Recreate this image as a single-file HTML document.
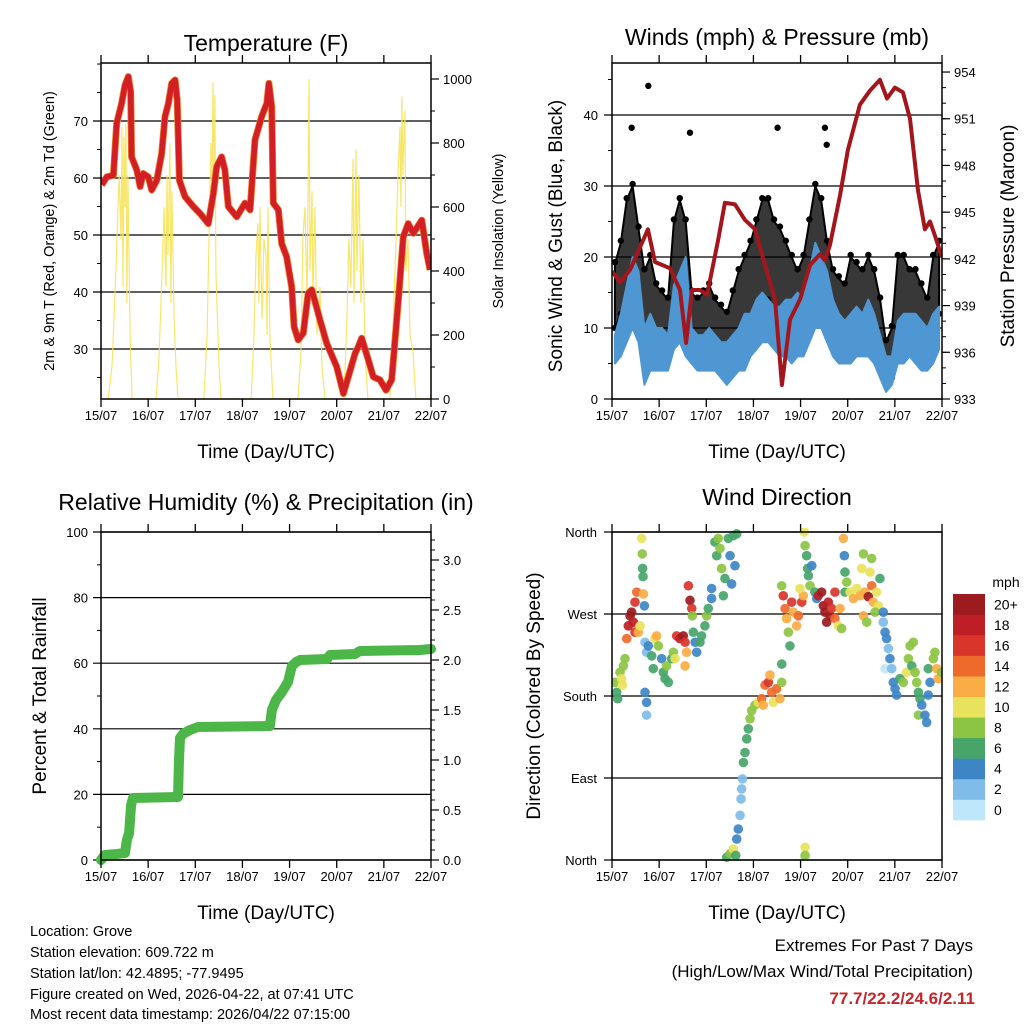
<!DOCTYPE html>
<html><head><meta charset="utf-8">
<style>
html,body{margin:0;padding:0;background:#fff;}
svg{display:block;font-family:"Liberation Sans",Arial,sans-serif;}
</style></head>
<body>
<svg id="chart" xmlns="http://www.w3.org/2000/svg" width="1024" height="1024" viewBox="0 0 1024 1024">
<rect x="0" y="0" width="1024" height="1024" fill="#fff"/>
<g font-size="14.5" fill="#000">
<text x="30" y="936">Location: Grove</text>
<text x="30" y="957">Station elevation: 609.722 m</text>
<text x="30" y="978">Station lat/lon: 42.4895; -77.9495</text>
<text x="30" y="999">Figure created on Wed, 2026-04-22, at 07:41 UTC</text>
<text x="30" y="1019">Most recent data timestamp: 2026/04/22 07:15:00</text>
</g>
<g font-size="17" text-anchor="end">
<text x="973" y="951">Extremes For Past 7 Days</text>
<text x="973" y="977">(High/Low/Max Wind/Total Precipitation)</text>
<text x="975" y="1004" fill="#c4262b" font-weight="bold">77.7/22.2/24.6/2.11</text>
</g>
</svg>
<script>
// ---------- DATA ----------
const dayLabels = ["15/07","16/07","17/07","18/07","19/07","20/07","21/07","22/07"];
// Temperature (hours since start, deg F)
const tempHours = [0.4,2.9,6.3,8.0,10.5,12.2,13.9,15.1,15.6,18.2,19.9,21.5,24.1,25.8,28.4,30.9,32.6,34.3,36.0,37.7,38.8,39.9,42.8,47.0,50.4,54.6,57.2,58.9,61.4,63.1,64.8,69.1,73.3,75.9,78.4,81.8,84.4,85.5,86.9,87.7,90.3,92.0,94.5,97.1,98.3,100.4,103.0,105.5,107.3,111.5,114.9,120.0,123.4,125.9,129.3,131.0,132.7,136.1,138.6,142.0,145.1,148.0,151.4,153.9,156.4,159.0,163.3,165.8,167.5];
const tempValues = [58.8,60.2,60.5,69.6,73.1,76.3,77.8,75.1,63.7,61.4,58.5,60.8,60.2,57.9,59.6,64.3,70.8,73.1,76.6,77.2,73.7,59.6,56.7,55.0,53.8,52.0,57.3,62.0,63.7,61.4,55.0,53.2,55.6,54.4,66.7,70.8,73.1,76.6,72.5,55.6,54.4,48.5,46.2,40.9,33.9,31.6,32.8,39.8,40.4,35.1,31.0,26.9,22.2,25.1,29.2,30.4,31.9,28.1,25.1,24.6,22.8,24.6,38.6,49.7,52.0,50.3,52.6,46.8,43.9];
// Solar insolation (hours, W/m2)
const solarHours = [0,3.6,5.6,7.6,9.2,10.2,10.7,11.2,11.7,12.2,12.7,13.2,13.7,14.8,15.8,28.0,29.5,31.1,32.1,33.1,33.6,34.1,35.1,35.6,36.1,37.2,38.2,39.2,52.4,54.0,55.0,56.0,56.5,57.0,57.5,58.0,58.5,59.0,60.1,61.1,76.4,77.9,78.9,79.9,80.4,80.9,82.0,83.0,84.0,84.5,85.0,86.0,87.5,100.3,101.8,102.8,103.8,104.9,105.9,106.4,107.4,107.9,108.9,109.9,111.5,112.5,114.0,123.7,125.2,126.2,127.2,128.3,128.8,129.8,130.3,131.3,132.3,133.4,134.4,135.9,147.1,148.6,150.2,151.2,152.2,152.7,153.2,153.7,154.7,155.2,156.3,157.3,158.8,160.3,168];
const solarValues = [0,0,100,400,700,500,850,350,820,600,860,300,700,200,0,0,120,400,600,350,700,450,800,300,650,250,100,0,0,200,500,800,650,990,700,950,400,300,100,0,0,200,450,550,300,600,250,500,450,200,600,200,0,0,150,500,600,300,1000,400,650,300,600,200,350,100,0,0,250,500,350,750,300,780,400,700,300,500,150,0,0,200,500,700,850,600,945,700,900,400,500,200,150,0,0];
// Winds in 3-hour bins (mph)
const gustHi = [19,22,28,30,24,18,20,16,15,14,25,28,25,15,14,15,16,14,13,12,15,18,20,22,25,28,28,25,24,22,20,18,20,25,30,28,22,18,17,16,20,19,18,20,18,14,8,10,20,20,18,18,16,14,20,22];
const gustLo = [10,12,14,16,12,6,8,8,8,7,12,14,10,8,7,7,8,8,6,6,8,8,9,10,12,14,14,12,12,10,8,9,10,14,16,15,13,10,10,9,10,10,10,10,8,6,3,3,10,10,10,8,8,8,10,12];
const windHi = [9,12,16,20,18,10,12,10,10,9,16,18,20,10,9,9,10,9,8,8,9,10,12,12,14,15,14,13,13,14,14,15,14,18,22,20,18,14,12,11,12,13,12,14,12,9,6,6,11,12,12,12,11,10,12,13];
const windLo = [5,6,8,10,8,2,4,4,4,4,7,8,6,5,4,4,4,4,3,2,3,4,4,6,7,8,8,7,6,6,5,6,6,8,10,10,8,6,5,5,5,6,6,6,5,3,1,2,5,5,6,5,4,4,5,7];
const gustPeakHours = [10.0,18.5,39.7,84.3,108.4,109.3];
const gustPeakValues = [38.2,44.1,37.5,38.2,38.2,35.8];
// Pressure (hours, mb)
const presHours = [0,4.1,9.2,18.3,21.9,29.5,34.6,37.7,40.7,44.8,48.4,54.0,57.5,62.6,67.7,72.8,77.9,83.0,86.5,90.6,95.7,100.8,105.9,108.4,111.0,116.1,120.1,126.2,131.3,136.4,140.0,144.0,148.1,151.7,155.8,159.3,161.9,164.4,168];
const presValues = [941.2,940.5,941.3,943.9,941.8,941.4,940.0,936.6,940.0,940.0,939.7,943.2,945.6,945.5,944.5,943.9,941.6,939.4,933.9,938.1,939.4,941.6,942.3,941.9,942.9,946.1,949.0,951.9,952.8,953.5,952.3,953.0,952.7,951.0,946.4,943.9,944.4,943.5,942.1];
// Precipitation (hours, inches)
const precipHours = [0,2.0,8.1,12.2,13.2,14.3,15.3,16.3,39.2,39.7,40.2,41.7,45.3,49.4,86.0,87.0,89.1,92.1,95.2,97.2,99.3,101.3,115.0,116.6,129.3,131.8,162.4,168];
const precipValues = [0,0.05,0.06,0.07,0.2,0.27,0.55,0.62,0.63,1.0,1.22,1.26,1.30,1.33,1.34,1.5,1.6,1.68,1.78,1.94,1.98,2.0,2.01,2.05,2.06,2.09,2.10,2.11];
// Wind direction observations (hours, degrees, mph)
const dirHours = [1.5,2.4,2.9,4.1,4.9,5.8,5.3,6.6,7.5,8.3,9.2,10.0,10.9,11.7,12.6,11.7,13.4,14.3,15.1,15.4,15.6,15.8,16.0,16.5,16.8,17.6,16.8,17.6,17.6,18.5,20.2,21.0,21.9,22.7,23.6,25.3,26.1,27.0,28.7,27.8,30.4,31.2,32.1,32.9,34.6,36.3,37.2,38.0,37.2,38.9,39.7,40.6,40.9,41.4,42.3,43.1,44.8,45.6,47.3,48.2,49.0,50.7,50.7,52.4,53.3,54.1,55.0,55.8,57.5,56.7,59.2,60.1,61.8,63.5,60.9,62.6,58.4,60.1,61.8,63.0,63.5,64.3,65.2,65.7,66.0,66.4,66.9,67.7,68.6,69.4,70.3,71.1,72.8,74.5,76.2,77.0,77.9,79.6,80.4,81.3,82.1,83.8,85.5,86.4,86.4,86.4,87.2,88.1,88.9,89.8,90.6,91.5,92.3,94.0,94.9,96.6,97.4,95.7,97.9,98.3,99.1,99.6,100.0,100.8,101.7,103.3,104.2,105.0,106.7,107.6,108.4,109.3,110.1,111.0,111.8,113.5,115.2,116.9,116.1,113.5,117.8,118.3,118.6,118.6,119.5,121.2,122.9,124.6,126.3,127.1,128.0,128.8,130.5,132.2,131.3,133.0,134.7,135.6,132.2,136.4,133.9,128.0,129.7,138.1,138.1,139.0,139.8,140.7,141.5,139.0,142.4,143.2,144.1,144.9,146.6,148.3,150.0,150.9,151.7,153.4,152.6,154.3,155.1,156.0,156.8,156.0,157.7,159.3,160.2,161.0,161.9,161.0,163.6,164.4,165.3,166.1,167.8,98.3,98.3];
const dirDegrees = [195,184,177,206,199,213,192,221,243,257,268,272,261,283,294,250,250,257,353,336,320,311,292,279,239,228,184,173,159,235,224,210,243,246,235,221,206,199,195,213,221,228,221,246,243,246,239,228,213,301,285,276,268,250,239,228,239,246,257,268,276,287,298,349,334,353,342,320,309,290,353,334,356,358,303,323,3,7,12,5,23,34,49,67,78,89,107,118,133,144,155,164,170,173,177,170,192,195,203,184,173,188,177,195,215,301,290,276,265,250,235,283,272,257,268,283,290,298,360,345,334,320,312,301,323,294,287,290,294,279,272,261,283,268,276,265,257,254,276,294,353,334,316,294,305,294,287,298,290,320,336,294,289,301,316,283,294,279,331,309,272,268,261,272,261,250,243,232,221,210,210,195,188,181,199,195,206,221,235,239,213,206,195,184,177,159,170,159,151,181,195,210,221,228,210,199,206,14,5];
const dirSpeeds = [8,6,6,8,10,8,10,8,14,18,20,20,18,16,14,16,12,10,10,8,7,7,12,4,2,2,4,4,3,5,6,6,10,12,8,4,6,6,6,8,6,8,10,16,18,20,16,12,12,16,20,16,8,7,4,4,6,7,6,8,6,4,4,7,7,8,9,8,6,7,7,4,6,7,4,4,6,8,10,6,4,4,2,2,2,2,6,6,6,6,8,8,8,10,14,12,14,16,12,14,10,14,12,8,7,8,16,14,12,8,7,16,12,12,14,16,12,10,10,8,7,6,7,8,4,6,4,18,20,20,20,20,18,20,16,14,10,8,12,16,12,4,6,6,8,10,12,10,12,10,8,12,20,14,10,12,10,10,8,6,8,12,8,4,2,4,4,2,4,0,2,4,4,4,6,8,10,8,8,8,6,8,8,6,6,8,4,4,4,4,4,6,8,8,12,12,8,10,8];
const speedLabels = ["0","2","4","6","8","10","12","14","16","18","20+"];
const speedColors = ["#bfe7fb","#7fbce9","#3d86c5","#47a56a","#8cc443","#e8e25c","#f9ad44","#ee6a2c","#d9352a","#bd1f24","#9b1b1e"];
const tempTicks = [30,40,50,60,70];
const solarTicks = [0,200,400,600,800,1000];
const windTicks = [0,10,20,30,40];
const presTicks = [933,936,939,942,945,948,951,954];
const rhTicks = [0,20,40,60,80,100];
const rainTicks = [0,0.5,1.0,1.5,2.0,2.5,3.0];
const dirTicks = [0,90,180,270,360];
const dirTickLabels = ["North","East","South","West","North"];

// ---------- HELPERS ----------
const NS = "http://www.w3.org/2000/svg";
const svg = document.getElementById("chart");
function mk(tag, attrs, parent, name) {
  const el = document.createElementNS(NS, tag);
  for (const k in attrs) el.setAttribute(k, attrs[k]);
  
  
  (parent || svg).appendChild(el);
  return el;
}
function txt(s, x, y, size, anchor, parent, name, extra) {
  const t = mk("text", Object.assign({x: x, y: y, "font-size": size, "text-anchor": anchor || "start", fill: "#000"}, extra || {}), parent, name);
  t.textContent = s;
  return t;
}
function scale(d0, d1, r0, r1) { return v => r0 + (v - d0) / (d1 - d0) * (r1 - r0); }
function poly(xs, ys, sx, sy) { return xs.map((h, i) => sx(h).toFixed(1) + "," + sy(ys[i]).toFixed(1)).join(" "); }
function speedColor(s) { return speedColors[Math.min(10, Math.max(0, Math.floor(s / 2)))]; }

function frame(g, L, T, R, B, sx, name) {
  dayLabels.forEach((lab, i) => {
    const x = sx(i * 24);
    mk("line", {x1: x, y1: B, x2: x, y2: B + 8, stroke: "#000", "stroke-width": 1.3}, g, name + "-x-tick");
    mk("line", {x1: x, y1: T, x2: x, y2: T - 8, stroke: "#000", "stroke-width": 1.3}, g, name + "-x-tick-top");
    txt(lab, x, B + 21, 13, "middle", g, name + "-x-tick-label");
  });
  txt("Time (Day/UTC)", (L + R) / 2, B + 59, 19, "middle", g, name + "-x-axis-title");
}
function leftAxis(g, ticks, labels, sy, L, R, minor, name, labelX) {
  ticks.forEach((v, i) => {
    const y = sy(v);
    mk("line", {x1: L - 8, y1: y, x2: R, y2: y, stroke: "#000", "stroke-width": 1.2}, g, name + "-gridline");
    txt(labels ? labels[i] : String(v), labelX, y + 5, 13, "end", g, name + "-tick-label");
  });
  (minor || []).forEach(v => {
    const y = sy(v);
    mk("line", {x1: L - 4, y1: y, x2: L, y2: y, stroke: "#000", "stroke-width": 1}, g, name + "-minor-tick");
  });
}
function rightAxis(g, ticks, labels, sy, R, minor, name) {
  ticks.forEach((v, i) => {
    const y = sy(v);
    mk("line", {x1: R, y1: y, x2: R + 8, y2: y, stroke: "#000", "stroke-width": 1.2}, g, name + "-tick");
    txt(labels[i], R + 12, y + 5, 13, "start", g, name + "-tick-label");
  });
  (minor || []).forEach(v => {
    const y = sy(v);
    mk("line", {x1: R, y1: y, x2: R + 4, y2: y, stroke: "#000", "stroke-width": 1}, g, name + "-minor-tick");
  });
}
function border(g, L, T, R, B, name) {
  mk("rect", {x: L, y: T, width: R - L, height: B - T, fill: "none", stroke: "#000", "stroke-width": 1.5}, g, name + "-frame");
}
function rng(a, b, s) { const o = []; for (let v = a; v <= b + 1e-9; v += s) o.push(+v.toFixed(3)); return o; }

// ---------- PANEL 1: TEMPERATURE ----------
(function () {
  const L = 101, T = 63, R = 431, B = 399;
  const g = mk("g", {}, svg, "temperature-panel");
  const sx = scale(0, 168, L, R);
  const sy = scale(21.23, 80.18, B, T);
  const sy2 = scale(0, 1050, B, T);
  txt("Temperature (F)", 266, 51, 23, "middle", g, "temperature-title");
  leftAxis(g, tempTicks, null, sy, L, R, rng(25, 80, 5), "temp-axis", 88);
  rightAxis(g, solarTicks, solarTicks.map(String), sy2, R, rng(100, 1000, 100), "solar-axis");
  const clip = mk("clipPath", {id: "c1"}, g, "temperature-clip");
  mk("rect", {x: L, y: T, width: R - L, height: B - T}, clip, "temperature-clip-rect");
  const dg = mk("g", {"clip-path": "url(#c1)"}, g, "temperature-series");
  mk("polyline", {points: poly(solarHours, solarValues, sx, sy2), fill: "none", stroke: "#f7e35a", "stroke-width": 1.2, opacity: 0.9}, dg, "solar-insolation-line");
  mk("polyline", {points: poly(tempHours, tempValues, sx, sy), fill: "none", stroke: "#f07a2a", "stroke-width": 7, "stroke-linejoin": "round"}, dg, "temp-9m-line");
  mk("polyline", {points: poly(tempHours, tempValues, sx, sy), fill: "none", stroke: "#d21f26", "stroke-width": 5.5, "stroke-linejoin": "round"}, dg, "temp-2m-line");
  border(g, L, T, R, B, "temperature");
  frame(g, L, T, R, B, sx, "temperature");
  txt("2m & 9m T (Red, Orange) & 2m Td (Green)", 0, 0, 14.5, "middle", g, "temp-y-axis-title", {transform: "translate(54,231) rotate(-90)"});
  txt("Solar Insolation (Yellow)", 0, 0, 14.5, "middle", g, "solar-y-axis-title", {transform: "translate(503,231) rotate(-90)"});
})();

// ---------- PANEL 2: WINDS & PRESSURE ----------
(function () {
  const L = 612, T = 63, R = 942, B = 399;
  const g = mk("g", {}, svg, "winds-panel");
  const sx = scale(0, 168, L, R);
  const sy = scale(0, 47.32, B, T);
  const sy2 = scale(933, 954.58, B, T);
  txt("Winds (mph) & Pressure (mb)", 777, 45, 23, "middle", g, "winds-title");
  leftAxis(g, windTicks, null, sy, L, R, rng(5, 45, 5), "wind-axis", 598);
  rightAxis(g, presTicks, presTicks.map(String), sy2, R, rng(934, 954, 1), "pressure-axis");
  const clip = mk("clipPath", {id: "c2"}, g, "winds-clip");
  mk("rect", {x: L, y: T, width: R - L, height: B - T}, clip, "winds-clip-rect");
  const dg = mk("g", {"clip-path": "url(#c2)"}, g, "winds-series");
  const binH = gustHi.map((v, i) => i * 3 + 1.5);
  const band = (hi, lo) => binH.map((h, i) => sx(h).toFixed(1) + "," + sy(hi[i]).toFixed(1)).concat(binH.slice().reverse().map((h, j) => { const i = binH.length - 1 - j; return sx(h).toFixed(1) + "," + sy(lo[i]).toFixed(1); })).join(" ");
  mk("polygon", {points: band(gustHi, gustLo), fill: "#000", "fill-opacity": 0.78, stroke: "#000", "stroke-width": 2, "stroke-linejoin": "round"}, dg, "gust-band");
  binH.forEach((h, i) => {
    mk("circle", {cx: sx(h), cy: sy(gustHi[i]) - 2, r: 3.2, fill: "#000"}, dg, "gust-point");
    mk("circle", {cx: sx(h), cy: sy(gustLo[i]), r: 3.2, fill: "#000"}, dg, "gust-point-low");
  });
  gustPeakHours.forEach((h, i) => {
    mk("circle", {cx: sx(h), cy: sy(gustPeakValues[i]), r: 3.2, fill: "#000"}, dg, "gust-peak-point");
  });
  mk("polygon", {points: band(windHi, windLo), fill: "#4f97d3", stroke: "#4f97d3", "stroke-width": 2, "stroke-linejoin": "round"}, dg, "sonic-wind-band");
  mk("polyline", {points: poly(presHours, presValues, sx, sy2), fill: "none", stroke: "#a3171c", "stroke-width": 4, "stroke-linejoin": "round"}, dg, "pressure-line");
  border(g, L, T, R, B, "winds");
  frame(g, L, T, R, B, sx, "winds");
  txt("Sonic Wind & Gust (Blue, Black)", 0, 0, 19, "middle", g, "wind-y-axis-title", {transform: "translate(562,236) rotate(-90)"});
  txt("Station Pressure (Maroon)", 0, 0, 19, "middle", g, "pressure-y-axis-title", {transform: "translate(1014,236) rotate(-90)"});
})();

// ---------- PANEL 3: RH & PRECIP ----------
(function () {
  const L = 101, T = 532, R = 431, B = 860;
  const g = mk("g", {}, svg, "humidity-panel");
  const sx = scale(0, 168, L, R);
  const sy = scale(0, 100, B, T);
  const sy2 = scale(0, 3.28, B, T);
  txt("Relative Humidity (%) & Precipitation (in)", 266, 510, 23, "middle", g, "humidity-title");
  leftAxis(g, rhTicks, null, sy, L, R, rng(10, 90, 20), "rh-axis", 88);
  rightAxis(g, rainTicks, rainTicks.map(v => v.toFixed(1)), sy2, R, rng(0.1, 3.2, 0.1), "rain-axis");
  const clip = mk("clipPath", {id: "c3"}, g, "humidity-clip");
  mk("rect", {x: L - 6, y: T, width: R - L + 12, height: B - T + 6}, clip, "humidity-clip-rect");
  const dg = mk("g", {"clip-path": "url(#c3)"}, g, "humidity-series");
  mk("polyline", {points: poly(precipHours, precipValues, sx, sy2), fill: "none", stroke: "#4cb748", "stroke-width": 10, "stroke-linejoin": "round", "stroke-linecap": "round"}, dg, "precip-line");
  border(g, L, T, R, B, "humidity");
  frame(g, L, T, R, B, sx, "humidity");
  txt("Percent & Total Rainfall", 0, 0, 19, "middle", g, "rh-y-axis-title", {transform: "translate(46,696) rotate(-90)"});
})();

// ---------- PANEL 4: WIND DIRECTION ----------
(function () {
  const L = 612, T = 532, R = 942, B = 860;
  const g = mk("g", {}, svg, "direction-panel");
  const sx = scale(0, 168, L, R);
  const sy = scale(0, 360, B, T);
  txt("Wind Direction", 777, 505, 23, "middle", g, "direction-title");
  leftAxis(g, dirTicks, dirTickLabels, sy, L, R, [], "direction-axis", 597);
  const clip = mk("clipPath", {id: "c4"}, g, "direction-clip");
  mk("rect", {x: L, y: T - 4, width: R - L, height: B - T + 8}, clip, "direction-clip-rect");
  const dg = mk("g", {"clip-path": "url(#c4)"}, g, "direction-series");
  dirHours.forEach((h, i) => {
    mk("circle", {cx: sx(h), cy: sy(dirDegrees[i]), r: 4.8, fill: speedColor(dirSpeeds[i]), opacity: 0.92}, dg, "direction-point");
  });
  border(g, L, T, R, B, "direction");
  frame(g, L, T, R, B, sx, "direction");
  txt("Direction (Colored By Speed)", 0, 0, 19, "middle", g, "direction-y-axis-title", {transform: "translate(540,696) rotate(-90)"});
  const cb = mk("g", {}, svg, "speed-colorbar");
  txt("mph", 1006, 587, 14, "middle", cb, "colorbar-title");
  const h = 20.55;
  speedLabels.forEach((lab, i) => {
    const y = 594 + (10 - i) * h;
    mk("rect", {x: 953, y: y, width: 32, height: h + 0.3, fill: speedColors[i]}, cb, "colorbar-box");
    txt(lab, 994, y + h / 2 + 5, 14, "start", cb, "colorbar-label");
  });
})();
</script>
</body></html>
